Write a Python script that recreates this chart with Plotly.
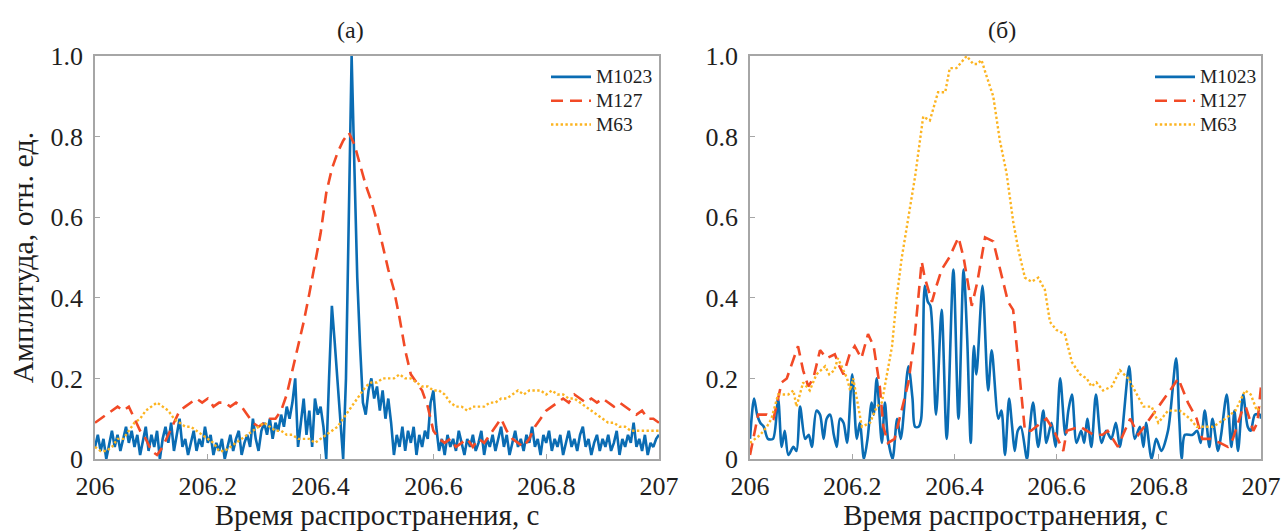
import numpy as np
import plotly.graph_objects as go

# ---------------- Panel (a) ----------------
a_t_blue = [round(206 + 0.005 * i, 3) for i in range(201)]
a_blue = [
    0.03,0.06,0.02,0.05,0.00,0.04,0.07,0.03,0.06,0.02,0.05,0.08,0.04,0.07,0.03,0.06,0.01,0.05,0.08,0.02,0.06,
    0.03,0.07,0.00,0.05,0.08,0.04,0.09,0.02,0.06,0.10,0.03,0.05,0.01,0.04,0.07,0.02,0.05,0.03,0.08,0.04,
    0.06,0.01,0.04,0.02,0.05,0.00,0.03,0.06,0.02,0.05,0.07,0.01,0.04,0.06,0.03,0.10,0.05,0.02,0.07,0.09,
    0.06,0.10,0.05,0.09,0.07,0.11,0.08,0.13,0.10,0.14,0.20,0.03,0.09,0.15,0.06,0.12,0.03,0.15,0.11,0.13,
    0.08,0.00,0.20,0.38,0.29,0.20,0.10,0.00,0.20,0.62,1.00,0.72,0.45,0.28,0.14,0.11,0.17,0.20,0.15,0.18,
    0.12,0.17,0.10,0.15,0.09,0.01,0.06,0.03,0.08,0.02,0.07,0.04,0.08,0.01,0.06,0.03,0.07,0.05,0.14,0.17,
    0.08,0.02,0.05,0.01,0.06,0.03,0.05,0.02,0.07,0.04,0.01,0.05,0.03,0.06,0.02,0.04,0.07,0.01,0.05,0.03,
    0.06,0.02,0.05,0.08,0.03,0.06,0.01,0.04,0.07,0.03,0.05,0.02,0.06,0.04,0.08,0.03,0.05,0.01,0.06,0.04,
    0.07,0.02,0.05,0.03,0.06,0.01,0.04,0.07,0.03,0.05,0.02,0.06,0.08,0.03,0.05,0.01,0.04,0.06,0.02,0.05,
    0.03,0.06,0.02,0.04,0.07,0.01,0.05,0.03,0.06,0.04,0.09,0.03,0.05,0.02,0.06,0.01,0.04,0.03,0.05,0.06,
]

a_t_smooth = [round(206 + 0.01 * i, 2) for i in range(101)]
a_red = [
    0.09,0.10,0.11,0.12,0.13,0.12,0.13,0.10,0.07,0.05,0.02,0.01,0.03,0.06,0.09,0.12,0.13,0.14,0.15,0.14,
    0.15,0.13,0.14,0.14,0.13,0.14,0.13,0.11,0.09,0.08,0.09,0.10,0.10,0.12,0.16,0.22,0.28,0.34,0.41,0.49,
    0.56,0.66,0.72,0.76,0.79,0.81,0.78,0.73,0.68,0.64,0.59,0.53,0.47,0.42,0.35,0.27,0.21,0.19,0.17,0.13,
    0.07,0.05,0.04,0.05,0.03,0.04,0.05,0.03,0.05,0.04,0.06,0.08,0.10,0.07,0.05,0.04,0.03,0.05,0.08,0.10,
    0.12,0.13,0.14,0.15,0.14,0.16,0.15,0.14,0.15,0.14,0.15,0.14,0.13,0.14,0.13,0.12,0.11,0.12,0.10,0.10,
    0.09,
]
a_yellow = [
    0.03,0.02,0.02,0.03,0.05,0.05,0.07,0.09,0.10,0.12,0.13,0.14,0.13,0.12,0.10,0.09,0.08,0.08,0.07,0.06,
    0.05,0.04,0.02,0.02,0.03,0.04,0.05,0.06,0.07,0.08,0.09,0.08,0.07,0.07,0.06,0.06,0.05,0.05,0.05,0.04,
    0.05,0.06,0.07,0.08,0.10,0.12,0.14,0.16,0.18,0.19,0.19,0.20,0.20,0.20,0.21,0.20,0.20,0.19,0.18,0.18,
    0.17,0.17,0.16,0.14,0.13,0.13,0.12,0.13,0.13,0.13,0.14,0.14,0.15,0.15,0.16,0.17,0.16,0.17,0.17,0.17,
    0.16,0.17,0.16,0.16,0.15,0.15,0.14,0.13,0.12,0.11,0.10,0.09,0.09,0.08,0.08,0.07,0.07,0.07,0.07,0.07,
    0.07,
]

# ---------------- Panel (б) ----------------
b_t_blue = [206.000,206.008,206.014,206.020,206.027,206.035,206.045,206.055,206.062,206.068,206.075,206.085,
            206.091,206.098,206.108,206.115,206.121,206.130,206.137,206.144,206.150,206.157,206.164,206.170,
            206.176,206.183,206.190,206.200,206.209,206.215,206.223,206.230,206.238,206.242,206.248,206.258,
            206.264,206.270,206.279,206.288,206.295,206.310,206.318,206.323,206.330,206.335,206.342,206.348,
            206.353,206.364,206.375,206.385,206.398,206.408,206.418,206.425,206.432,206.438,206.443,206.455,
            206.466,206.473,206.486,206.492,206.499,206.507,206.513,206.518,206.524,206.530,206.542,206.547,
            206.554,206.564,206.574,206.580,206.590,206.598,206.607,206.617,206.623,206.630,206.639,206.648,
            206.654,206.660,206.668,206.677,206.688,206.697,206.707,206.716,206.724,206.742,206.753,206.763,
            206.770,206.775,206.786,206.795,206.805,206.818,206.834,206.840,206.845,206.851,206.866,206.875,
            206.882,206.890,206.899,206.905,206.916,206.922,206.933,206.942,206.948,206.955,206.965,206.974,
            206.980,206.988,206.998,207.000]
b_blue = [0.05,0.15,0.11,0.09,0.08,0.05,0.05,0.15,0.03,0.07,0.01,0.03,
          0.02,0.13,0.05,0.06,0.03,0.12,0.11,0.05,0.10,0.11,0.06,0.03,
          0.10,0.09,0.04,0.21,0.05,0.09,0.00,0.05,0.14,0.11,0.20,0.04,
          0.14,0.05,0.00,0.10,0.05,0.23,0.15,0.08,0.08,0.10,0.43,0.39,
          0.38,0.11,0.37,0.05,0.47,0.10,0.47,0.30,0.04,0.28,0.21,0.43,
          0.17,0.27,0.10,0.12,0.01,0.15,0.08,0.02,0.07,0.08,0.00,0.07,
          0.14,0.03,0.12,0.04,0.09,0.03,0.20,0.06,0.12,0.16,0.04,0.07,
          0.04,0.10,0.03,0.16,0.04,0.07,0.05,0.09,0.03,0.23,0.05,0.08,
          0.03,0.09,0.00,0.05,0.02,0.07,0.25,0.10,0.00,0.06,0.06,0.07,
          0.04,0.12,0.03,0.10,0.02,0.06,0.16,0.03,0.12,0.02,0.16,0.08,
          0.07,0.11,0.11,0.10]

b_t_red = [206.000,206.008,206.016,206.033,206.046,206.055,206.062,206.072,206.085,206.094,206.104,206.114,
           206.124,206.137,206.150,206.166,206.175,206.183,206.195,206.205,206.218,206.231,206.242,206.254,
           206.261,206.270,206.283,206.293,206.310,206.322,206.336,206.342,206.356,206.365,206.375,206.390,
           206.408,206.418,206.434,206.445,206.460,206.476,206.489,206.505,206.515,206.525,206.538,206.550,
           206.560,206.570,206.580,206.595,206.613,206.620,206.646,206.672,206.690,206.700,206.720,206.730,
           206.744,206.760,206.783,206.799,206.822,206.838,206.857,206.874,206.885,206.900,206.920,206.935,
           206.945,206.963,206.970,206.985,206.993,207.000]
b_red = [0.01,0.06,0.11,0.11,0.10,0.15,0.19,0.20,0.25,0.28,0.22,0.18,
         0.20,0.27,0.25,0.26,0.23,0.21,0.26,0.28,0.25,0.31,0.28,0.18,
         0.08,0.04,0.05,0.10,0.19,0.30,0.49,0.45,0.39,0.43,0.47,0.50,
         0.55,0.50,0.38,0.44,0.55,0.54,0.47,0.39,0.37,0.24,0.07,0.07,
         0.08,0.09,0.10,0.07,0.02,0.07,0.08,0.06,0.06,0.07,0.03,0.06,
         0.10,0.06,0.10,0.13,0.17,0.20,0.14,0.10,0.05,0.05,0.04,0.03,
         0.05,0.12,0.13,0.07,0.09,0.18]

b_t_yellow = [206.000,206.020,206.033,206.042,206.055,206.075,206.085,206.091,206.104,206.117,206.130,206.147,
              206.155,206.165,206.172,206.190,206.196,206.202,206.209,206.219,206.235,206.248,206.258,206.265,
              206.278,206.287,206.297,206.310,206.323,206.339,206.352,206.368,206.382,206.391,206.404,206.424,
              206.437,206.445,206.453,206.463,206.476,206.489,206.502,206.515,206.525,206.538,206.551,206.564,
              206.577,206.587,206.600,206.616,206.630,206.646,206.659,206.668,206.678,206.691,206.708,206.724,
              206.740,206.753,206.770,206.786,206.799,206.818,206.841,206.861,206.874,206.906,206.930,206.950,
              206.969,206.980,206.992,207.000]
b_yellow = [0.04,0.06,0.08,0.10,0.16,0.16,0.17,0.13,0.19,0.17,0.21,0.23,
            0.21,0.22,0.25,0.20,0.17,0.20,0.15,0.08,0.09,0.13,0.14,0.19,
            0.28,0.40,0.50,0.60,0.70,0.85,0.84,0.91,0.91,0.97,0.97,1.00,
            0.98,0.98,0.99,0.95,0.90,0.79,0.71,0.59,0.52,0.45,0.44,0.45,
            0.42,0.34,0.32,0.31,0.24,0.21,0.20,0.18,0.19,0.17,0.18,0.22,
            0.20,0.17,0.13,0.13,0.09,0.12,0.12,0.10,0.08,0.08,0.10,0.12,
            0.17,0.16,0.12,0.13]

names = ["M1023", "M127", "M63"]
x_ticks = [206, 206.2, 206.4, 206.6, 206.8, 207]
x_ticktext = ["206", "206.2", "206.4", "206.6", "206.8", "207"]
y_ticks = [0, 0.2, 0.4, 0.6, 0.8, 1.0]
y_ticktext = ["0", "0.2", "0.4", "0.6", "0.8", "1.0"]
panel_titles = ["(a)", "(б)"]
x_title = "Время распространения, с"
y_title = "Амплитуда, отн. ед."

BLUE = "#0a6cb3"
RED = "#f24a26"
YEL = "#fcb421"
FONT = "Liberation Serif"
TXT = "#1e1e1e"

W, H = 1285, 531
L, R, T, B = 95, 24, 56, 72
PW = W - L - R
PH = H - T - B

def px_x(px):
    return (px - L) / PW

def px_y(py):
    return (H - B - py) / PH

fig = go.Figure()

def leg_name(n):
    return "<span style='font-size:19.5px'>" + n + "</span>"

def add_panel(xa, ya, legend, tb, vb, tr, vr, ty, vy, smooth_blue):
    fig.add_trace(go.Scatter(x=tb, y=vb, mode="lines", name=leg_name(names[0]), xaxis=xa, yaxis=ya,
                             legend=legend,
                             line=dict(color=BLUE, width=2.6, shape="spline" if smooth_blue else "linear",
                                       smoothing=0.8)))
    fig.add_trace(go.Scatter(x=tr, y=vr, mode="lines", name=leg_name(names[1]), xaxis=xa, yaxis=ya,
                             legend=legend,
                             line=dict(color=RED, width=2.6, dash="12px,7px")))
    fig.add_trace(go.Scatter(x=ty, y=vy, mode="lines", name=leg_name(names[2]), xaxis=xa, yaxis=ya,
                             legend=legend,
                             line=dict(color=YEL, width=2.4, dash="2.4px,2.4px")))

add_panel("x", "y", "legend", a_t_blue, a_blue, a_t_smooth, a_red, a_t_smooth, a_yellow, False)
add_panel("x2", "y2", "legend2", b_t_blue, b_blue, b_t_red, b_red, b_t_yellow, b_yellow, True)

axis_common = dict(
    range=[206, 207], showline=True, linecolor="#a6a6a6", linewidth=1.6, mirror=True,
    ticks="inside", ticklen=5, tickwidth=1.2, tickcolor="#a6a6a6", showgrid=False, zeroline=False,
    tickvals=x_ticks, ticktext=x_ticktext, tickfont=dict(family=FONT, size=26, color=TXT),
    ticklabelstandoff=3, automargin=False,
    title=dict(text=x_title, font=dict(family=FONT, size=29, color=TXT), standoff=6),
)
yaxis_common = dict(
    range=[0, 1.0], showline=True, linecolor="#a6a6a6", linewidth=1.6, mirror=True,
    ticks="inside", ticklen=5, tickwidth=1.2, tickcolor="#a6a6a6", showgrid=False, zeroline=False,
    tickvals=y_ticks, ticktext=y_ticktext, tickfont=dict(family=FONT, size=26, color=TXT),
    ticklabelstandoff=5, automargin=False,
)

legend_common = dict(xref="paper", yref="paper", xanchor="left", yanchor="top",
                     font=dict(family=FONT, size=16, color=TXT), bgcolor="rgba(0,0,0,0)",
                     itemwidth=40, tracegroupgap=0)

fig.update_layout(
    width=W, height=H, margin=dict(l=L, r=R, t=T, b=B, autoexpand=False),
    paper_bgcolor="white", plot_bgcolor="white",
    xaxis=dict(domain=[px_x(95), px_x(659)], anchor="y", **axis_common),
    yaxis=dict(domain=[0, 1], anchor="x",
               title=dict(text=y_title, font=dict(family=FONT, size=30, color=TXT), standoff=8),
               **yaxis_common),
    xaxis2=dict(domain=[px_x(750), px_x(1261)], anchor="y2", **axis_common),
    yaxis2=dict(domain=[0, 1], anchor="x2", **yaxis_common),
    legend=dict(x=px_x(546), y=px_y(60), **legend_common),
    legend2=dict(x=px_x(1150), y=px_y(60), **legend_common),
    annotations=[
        dict(text=panel_titles[0], x=px_x(350), y=px_y(30), xref="paper", yref="paper", showarrow=False,
             xanchor="center", yanchor="middle", font=dict(family=FONT, size=24, color=TXT)),
        dict(text=panel_titles[1], x=px_x(1002), y=px_y(30), xref="paper", yref="paper", showarrow=False,
             xanchor="center", yanchor="middle", font=dict(family=FONT, size=24, color=TXT)),
    ],
)

fig.write_html("out.html")
